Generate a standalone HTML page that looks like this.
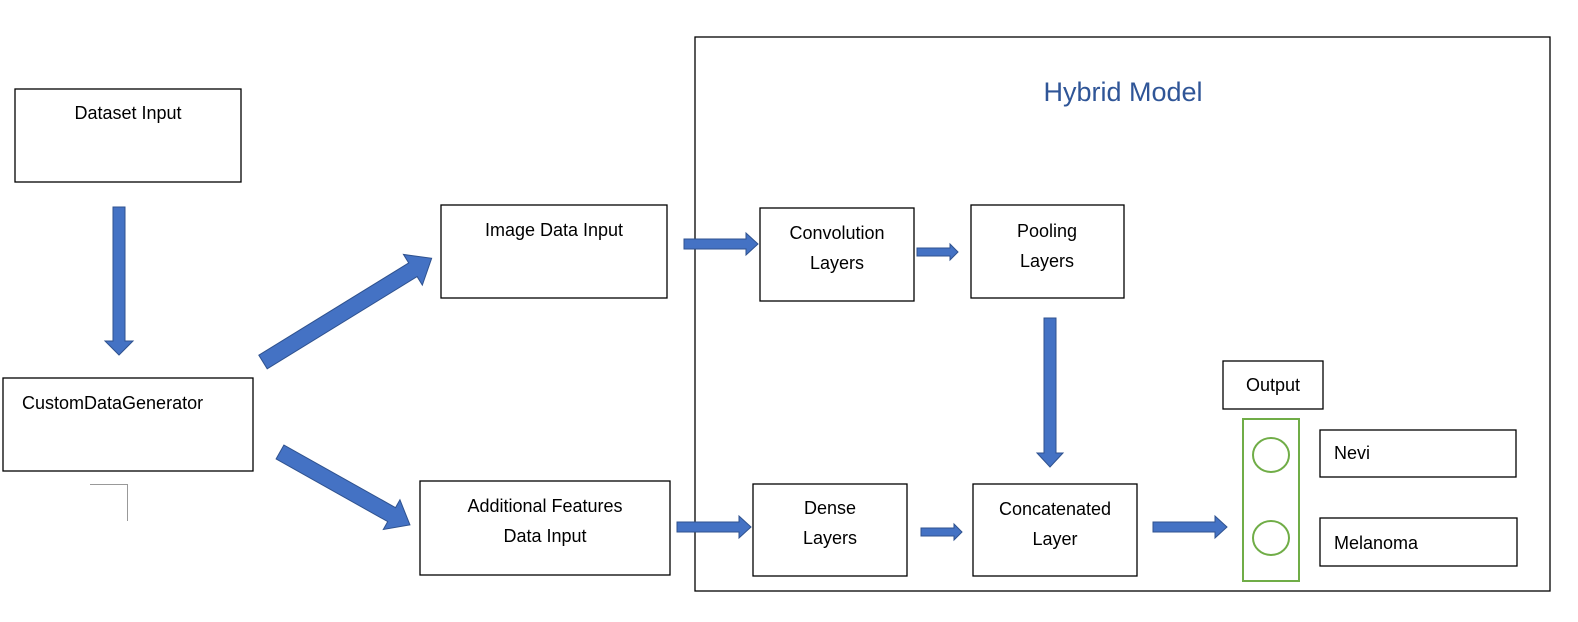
<!DOCTYPE html>
<html><head><meta charset="utf-8"><style>
html,body{margin:0;padding:0;background:#fff;overflow:hidden;width:1578px;height:622px;}
svg{display:block;font-family:"Liberation Sans",sans-serif;}
text{font-size:18px;fill:#000;}
.b{fill:#fff;stroke:#000;stroke-width:1.3;}
.a{fill:#4472C4;stroke:#2F528F;stroke-width:1;}
</style></head><body>
<svg width="1578" height="622" viewBox="0 0 1578 622" xmlns="http://www.w3.org/2000/svg">
<rect x="695" y="37" width="855" height="554" class="b"/>
<text x="1123" y="101" text-anchor="middle" style="font-size:27px;fill:#2F5597">Hybrid Model</text>

<rect x="15" y="89" width="226" height="93" class="b"/>
<text x="128" y="119" text-anchor="middle">Dataset Input</text>
<rect x="3" y="378" width="250" height="93" class="b"/>
<text x="22" y="409">CustomDataGenerator</text>
<path d="M90 484.5 H127.5 V521" fill="none" stroke="#999" stroke-width="1"/>

<rect x="441" y="205" width="226" height="93" class="b"/>
<text x="554" y="236" text-anchor="middle">Image Data Input</text>
<rect x="420" y="481" width="250" height="94" class="b"/>
<text x="545" y="512" text-anchor="middle">Additional Features</text>
<text x="545" y="542" text-anchor="middle">Data Input</text>

<rect x="760" y="208" width="154" height="93" class="b"/>
<text x="837" y="239" text-anchor="middle">Convolution</text>
<text x="837" y="269" text-anchor="middle">Layers</text>
<rect x="971" y="205" width="153" height="93" class="b"/>
<text x="1047" y="237" text-anchor="middle">Pooling</text>
<text x="1047" y="267" text-anchor="middle">Layers</text>
<rect x="753" y="484" width="154" height="92" class="b"/>
<text x="830" y="514" text-anchor="middle">Dense</text>
<text x="830" y="544" text-anchor="middle">Layers</text>
<rect x="973" y="484" width="164" height="92" class="b"/>
<text x="1055" y="515" text-anchor="middle">Concatenated</text>
<text x="1055" y="545" text-anchor="middle">Layer</text>

<rect x="1223" y="361" width="100" height="48" class="b"/>
<text x="1273" y="391" text-anchor="middle">Output</text>
<rect x="1243" y="419" width="56" height="162" fill="#fff" stroke="#70AD47" stroke-width="2"/>
<ellipse cx="1271" cy="455" rx="18" ry="17" fill="#fff" stroke="#70AD47" stroke-width="2"/>
<ellipse cx="1271" cy="538" rx="18" ry="17" fill="#fff" stroke="#70AD47" stroke-width="2"/>
<rect x="1320" y="430" width="196" height="47" class="b"/>
<text x="1334" y="459">Nevi</text>
<rect x="1320" y="518" width="197" height="48" class="b"/>
<text x="1334" y="549">Melanoma</text>

<!-- arrows -->
<g transform="translate(119,207) rotate(90)"><polygon class="a" points="0,-6 134,-6 134,-14 148,0 134,14 134,6 0,6"/></g>
<g transform="translate(263,362) rotate(-31.6)"><polygon class="a" points="0,-8 176,-8 176,-18 198,0 176,18 176,8 0,8"/></g>
<g transform="translate(280,452) rotate(29.3)"><polygon class="a" points="0,-8 128,-8 128,-17 149,0 128,17 128,8 0,8"/></g>
<g transform="translate(684,244)"><polygon class="a" points="0,-5 62,-5 62,-11 74,0 62,11 62,5 0,5"/></g>
<g transform="translate(917,252)"><polygon class="a" points="0,-4 33,-4 33,-8 41,0 33,8 33,4 0,4"/></g>
<g transform="translate(1050,318) rotate(90)"><polygon class="a" points="0,-6 135,-6 135,-13 149,0 135,13 135,6 0,6"/></g>
<g transform="translate(677,527)"><polygon class="a" points="0,-5 62,-5 62,-11 74,0 62,11 62,5 0,5"/></g>
<g transform="translate(921,532)"><polygon class="a" points="0,-4 33,-4 33,-8 41,0 33,8 33,4 0,4"/></g>
<g transform="translate(1153,527)"><polygon class="a" points="0,-5 62,-5 62,-11 74,0 62,11 62,5 0,5"/></g>
</svg>
</body></html>
